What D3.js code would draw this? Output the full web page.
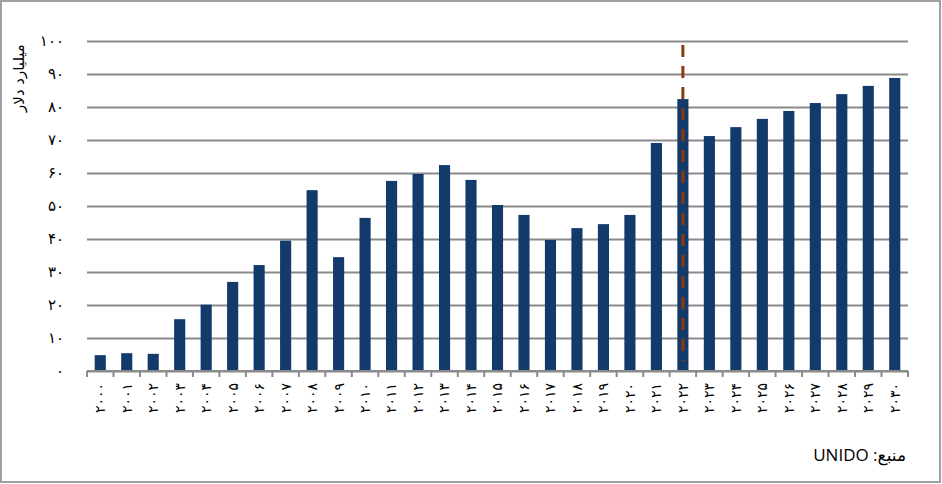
<!DOCTYPE html>
<html>
<head>
<meta charset="utf-8">
<script src="https://cdn.jsdelivr.net/npm/d3@7"></script>
<style>
  html, body { margin: 0; padding: 0; background: #fff; }
  svg { display: block; }
</style>
</head>
<body>
<div id="chart"></div>
<script>
// data (billion dollars)
const years = ["2000","2001","2002","2003","2004","2005","2006","2007","2008","2009",
    "2010","2011","2012","2013","2014","2015","2016","2017","2018","2019",
    "2020","2021","2022","2023","2024","2025","2026","2027","2028","2029","2030"];
const values = [4.8, 5.4, 5.2, 15.7, 20.1, 27.0, 32.1, 39.5, 54.8, 34.5,
    46.4, 57.6, 59.7, 62.4, 57.9, 50.3, 47.3, 39.7, 43.3, 44.5,
    47.3, 69.1, 82.4, 71.2, 73.9, 76.4, 78.8, 81.2, 83.9, 86.4, 88.8];
const yTicks = [0, 10, 20, 30, 40, 50, 60, 70, 80, 90, 100];
const markerYear = "2022";
const markerRange = [3, 98.8];
const yTitle = "میلیارد دلار";
const sourceText = "منبع: UNIDO";

const W = 942, H = 484;
const faDigits = "۰۱۲۳۴۵۶۷۸۹";
const fa = s => String(s).replace(/[0-9]/g, d => faDigits[d]);

const svg = d3.select("#chart")
    .append("svg")
    .attr("width", W)
    .attr("height", H);

// outer frame
svg.append("rect")
    .attr("x", 1).attr("y", 1)
    .attr("width", W - 3).attr("height", H - 3)
    .attr("fill", "#fff")
    .attr("stroke", "#a0a0a0")
    .attr("stroke-width", 2);

const x = d3.scaleBand()
    .domain(years)
    .range([87, 908])
    .paddingInner(0.58)
    .paddingOuter(0.29);

const y = d3.scaleLinear()
    .domain([0, 100])
    .range([371, 41]);

// gridlines + y labels
const yAxis = svg.append("g")
    .attr("transform", "translate(87,0)")
    .call(d3.axisLeft(y)
        .tickValues(yTicks)
        .tickSize(-(908 - 87))
        .tickPadding(23)
        .tickFormat(fa));
yAxis.select(".domain").remove();
yAxis.selectAll(".tick line")
    .attr("stroke", "#8a8a8a")
    .attr("stroke-width", 1.8);
yAxis.selectAll(".tick text")
    .attr("fill", "#000")
    .style("font-family", "'DejaVu Sans', sans-serif")
    .style("font-size", "15px");

// bars
svg.selectAll(".bar")
    .data(years)
    .enter()
    .append("rect")
    .attr("class", "bar")
    .attr("x", d => x(d))
    .attr("width", x.bandwidth())
    .attr("y", (d, i) => y(values[i]))
    .attr("height", (d, i) => y(0) - y(values[i]))
    .attr("fill", "#123b6c");

// x axis
const step = x.step();
const gap = (step - x.bandwidth()) / 2;
const xAxis = svg.append("g")
    .attr("transform", `translate(0,${y(0)})`)
    .call(d3.axisBottom(x).tickSize(0).tickFormat(fa));
xAxis.select(".domain")
    .attr("stroke", "#8a8a8a")
    .attr("stroke-width", 2)
    .attr("d", `M${x.range()[0]},0H${x.range()[1]}`);
xAxis.selectAll(".tick text")
    .attr("transform", "rotate(-90)")
    .attr("x", -12)
    .attr("y", 0)
    .attr("dy", "0.35em")
    .attr("fill", "#000")
    .style("text-anchor", "end")
    .style("font-family", "'DejaVu Sans', sans-serif")
    .style("font-size", "14px");

// category boundary ticks
const bounds = years.map(d => x(d) - gap).concat([x(years[years.length - 1]) + x.bandwidth() + gap]);
xAxis.selectAll(".bound")
    .data(bounds)
    .enter()
    .append("line")
    .attr("class", "bound")
    .attr("x1", d => d).attr("x2", d => d)
    .attr("y1", 0).attr("y2", 6)
    .attr("stroke", "#8a8a8a")
    .attr("stroke-width", 2);

// dashed marker line
const mx = x(markerYear) + x.bandwidth() / 2;
svg.append("line")
    .attr("x1", mx).attr("x2", mx)
    .attr("y1", y(markerRange[1]))
    .attr("y2", y(markerRange[0]))
    .attr("stroke", "#8b3a0e")
    .attr("stroke-width", 3)
    .attr("stroke-dasharray", "12,9");

// y axis title
svg.append("text")
    .attr("transform", "translate(24,78) rotate(-90)")
    .attr("text-anchor", "middle")
    .attr("direction", "rtl")
    .style("font-family", "'DejaVu Sans', sans-serif")
    .style("font-size", "15px")
    .text(yTitle);

// source
svg.append("text")
    .attr("x", 906)
    .attr("y", 461)
    .attr("direction", "rtl")
    .attr("text-anchor", "start")
    .style("font-family", "'Open Sans', 'DejaVu Sans', sans-serif")
    .style("font-size", "17px")
    .text(sourceText);
</script>
</body>
</html>
